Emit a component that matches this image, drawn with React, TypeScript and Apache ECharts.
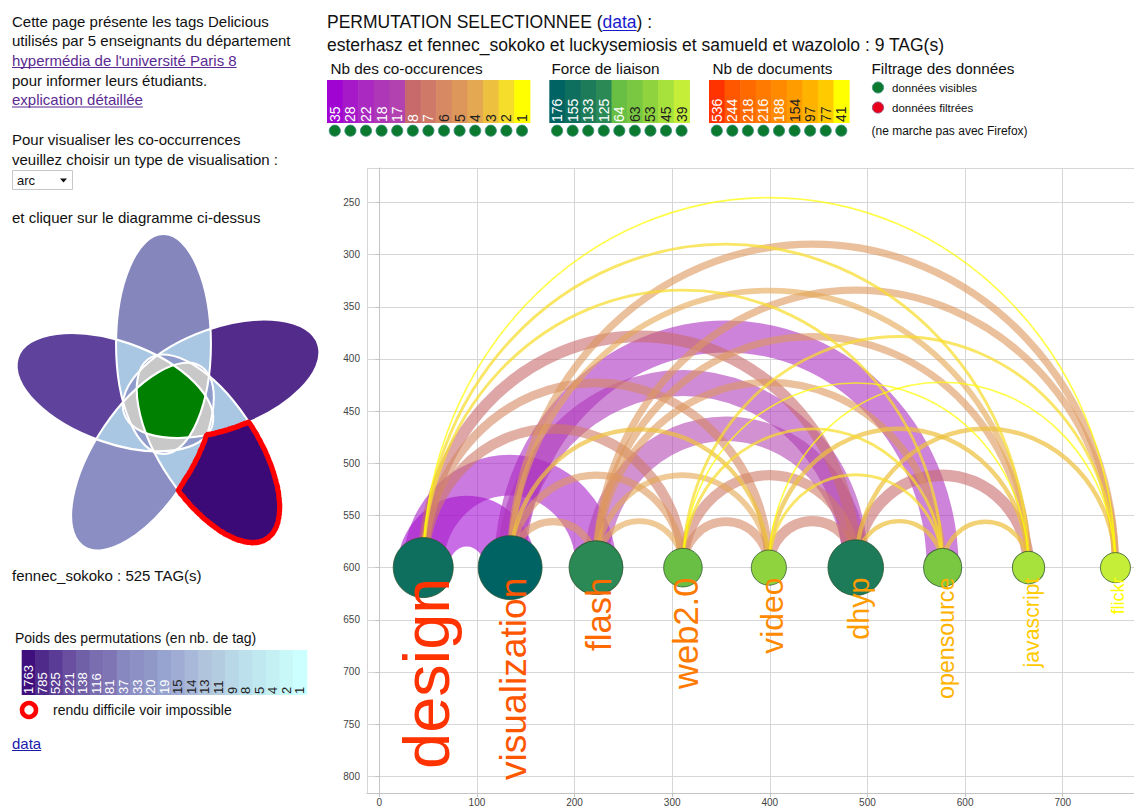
import React, { useEffect, useRef } from "react";
import * as echarts from "echarts";

const FONT = 'Arial, "Liberation Sans", Helvetica, sans-serif';

// ---- arc diagram data ----
const tags = ["design", "visualization", "flash", "web2.0", "video", "dhyp", "opensource", "javascript", "flickr"];
const tagPos = [45, 134, 222, 311, 399, 488, 577, 665, 754];
const tagForce = [155, 176, 125, 64, 53, 133, 63, 45, 39];
const tagDocs = [536, 244, 218, 216, 188, 154, 97, 77, 41];
const baselineY = 600;

// [from, to, co-occurrences]
const links = [
  [0, 1, 35], [0, 2, 28], [1, 6, 22], [1, 5, 18], [2, 5, 17],
  [0, 5, 8], [5, 7, 8], [0, 3, 7], [4, 5, 7], [3, 5, 7],
  [0, 4, 6], [3, 4, 6], [1, 2, 5], [1, 3, 5], [1, 8, 5], [2, 8, 5], [2, 7, 5], [2, 6, 5],
  [2, 3, 4], [2, 4, 4], [1, 7, 4],
  [5, 6, 3], [6, 7, 3], [4, 7, 3], [5, 8, 3], [1, 4, 3],
  [0, 6, 2], [0, 7, 2], [3, 6, 2], [4, 6, 2], [3, 8, 2],
  [0, 8, 1], [4, 8, 1], [3, 7, 1],
];

// ---- legends ----
const coocLegend = [35, 28, 22, 18, 17, 8, 7, 6, 5, 4, 3, 2, 1];
const coocColors = ["#a004d2", "#a619c8", "#aa29c0", "#ae37b8", "#b242b0", "#c86a6c", "#cf7a68", "#d68962", "#dd975b", "#e4a752", "#edc03f", "#f6dc2b", "#ffff00"];
const forceLegend = [176, 155, 133, 125, 64, 63, 53, 45, 39];
const forceColors = ["#006363", "#0f6f5e", "#1d7b5a", "#2b8956", "#68bf44", "#7ac842", "#8fd43f", "#a7e13b", "#c4ee38"];
const docsLegend = [536, 244, 218, 216, 188, 154, 97, 77, 41];
const docsColors = ["#ff3300", "#ff5600", "#ff6a00", "#ff7a00", "#ff8a00", "#ff9d00", "#ffb300", "#ffcb00", "#ffff00"];
const poidsLegend = [1763, 785, 525, 221, 138, 116, 81, 37, 33, 20, 19, 15, 14, 13, 11, 9, 8, 5, 4, 2, 1];
const poidsColors = ["#3f0f7d", "#4f2a8a", "#5a3b95", "#6a4fa0", "#7060a8", "#7a6db0", "#8075b4", "#8888c0", "#8c90c4", "#9098c8", "#98a4d0", "#a0acd4", "#a8b8d8", "#b0c4dc", "#b4cce0", "#b8d8e8", "#bce0ec", "#c0e8f0", "#c4f0f4", "#c8f8f8", "#ccffff"];
const vennColors = ["#8486bc", "#5f429b", "#8a8ec2", "#3b0a77", "#532b8a"];
const overlapColors = ["#a9c6e2", "#8f9bcb", "#c8c8c8", "#008000"];

const leftLines = [
  "Cette page présente les tags Delicious",
  "utilisés par 5 enseignants du département",
  "hypermédia de l'université Paris 8",
  "pour informer leurs étudiants.",
  "explication détaillée",
];

let measureCtx: CanvasRenderingContext2D | null = null;
function measure(text: string, size: number) {
  if (!measureCtx) measureCtx = document.createElement("canvas").getContext("2d");
  if (!measureCtx) return text.length * size * 0.5;
  measureCtx.font = `${size}px ${FONT}`;
  return measureCtx.measureText(text).width;
}

function colorFor(values: number[], colors: string[], v: number) {
  const i = values.indexOf(v);
  return colors[i >= 0 ? i : colors.length - 1];
}

function txt(x: number, y: number, text: string, size: number, fill = "#111") {
  return {
    type: "text",
    x,
    y,
    silent: true,
    style: { text, fill, fontSize: size, fontFamily: FONT, align: "left", verticalAlign: "middle" },
  };
}

function uline(x1: number, x2: number, y: number, color: string) {
  return { type: "line", silent: true, shape: { x1, y1: y, x2, y2: y }, style: { stroke: color, lineWidth: 1 } };
}

function swatches(x0: number, y0: number, w: number, h: number, values: number[], colors: string[], lightCount: number, fontSize: number, dotY: number | null) {
  const els: any[] = [];
  values.forEach((v, i) => {
    const x = x0 + i * w;
    els.push({ type: "rect", silent: true, shape: { x, y: y0, width: w + 0.6, height: h }, style: { fill: colors[i] } });
    els.push({
      type: "text",
      silent: true,
      x: x + w / 2,
      y: y0 + h - 1,
      rotation: Math.PI / 2,
      style: { text: String(v), fill: i < lightCount ? "#ffffff" : "#222222", fontSize, fontFamily: FONT, align: "left", verticalAlign: "middle" },
    });
    if (dotY != null) {
      els.push({ type: "circle", silent: true, shape: { cx: x + w / 2, cy: dotY, r: 5.6 }, style: { fill: "#0b7a2f", stroke: "#3b8d80", lineWidth: 0.8 } });
    }
  });
  return els;
}

// ---- Venn (5 ellipses) ----
const VA = 110, VB = 51, VD = 60, VP = 7;
function vennEllipses() {
  const out: { cx: number; cy: number; phi: number }[] = [];
  for (let k = 0; k < 5; k++) {
    const phi = ((90 + 72 * k) * Math.PI) / 180;
    const cx = VD * Math.cos(phi) + VP * Math.cos(phi + Math.PI / 2);
    const cy = -(VD * Math.sin(phi) + VP * Math.sin(phi + Math.PI / 2));
    out.push({ cx, cy, phi });
  }
  return out;
}
function insideE(e: { cx: number; cy: number; phi: number }, x: number, y: number) {
  const dx = x - e.cx, dy = y - e.cy;
  const c = Math.cos(e.phi), s = Math.sin(e.phi);
  const u = c * dx - s * dy;
  const v = s * dx + c * dy;
  return (u * u) / (VA * VA) + (v * v) / (VB * VB) <= 1;
}
function countAt(ells: any[], x: number, y: number) {
  let n = 0;
  for (const e of ells) if (insideE(e, x, y)) n++;
  return n;
}
function rayRegion(ox: number, oy: number, test: (x: number, y: number) => boolean) {
  const pts: number[][] = [];
  for (let deg = 0; deg < 360; deg += 1.5) {
    const t = (deg * Math.PI) / 180;
    let r = 0;
    while (r < 220 && test(ox + r * Math.cos(t), oy + r * Math.sin(t))) r += 0.5;
    pts.push([ox + r * Math.cos(t), oy + r * Math.sin(t)]);
  }
  return pts;
}

function venn() {
  const ells = vennEllipses();
  const fills = ells.map((e, k) => ({ type: "ellipse", x: e.cx, y: e.cy, rotation: e.phi, shape: { cx: 0, cy: 0, rx: VA, ry: VB }, style: { fill: vennColors[k] } }));
  const outlines = ells.map((e) => ({ type: "ellipse", x: e.cx, y: e.cy, rotation: e.phi, shape: { cx: 0, cy: 0, rx: VA, ry: VB }, style: { fill: "none", stroke: "#ffffff", lineWidth: 2.2 } }));
  const regions = [2, 3, 4, 5].map((k, i) => ({
    type: "polygon",
    shape: { points: rayRegion(0, 0, (x, y) => countAt(ells, x, y) >= k) },
    style: { fill: overlapColors[i] },
  }));
  const e3 = ells[3];
  const ox = e3.cx + 0.55 * VA * Math.cos(e3.phi);
  const oy = e3.cy - 0.55 * VA * Math.sin(e3.phi);
  const lobe = rayRegion(ox, oy, (x, y) => insideE(e3, x, y) && countAt(ells, x, y) === 1);
  return {
    type: "group",
    x: 170,
    y: 404,
    scaleX: 0.93,
    silent: true,
    children: [
      ...fills,
      ...regions,
      ...outlines,
      { type: "polygon", shape: { points: lobe }, style: { fill: "#3b0a77", stroke: "#ff0000", lineWidth: 5.5, lineJoin: "round" } },
    ],
  };
}

function buildGraphic() {
  const g: any[] = [];
  const LS = 15;
  const ly = [21, 40.5, 60, 80, 99.5];
  leftLines.forEach((t, i) => {
    const link = i === 2 || i === 4;
    g.push(txt(12, ly[i], t, LS, link ? "#5b2a92" : "#111"));
    if (link) g.push(uline(12, 12 + measure(t, LS), ly[i] + 7.5, "#5b2a92"));
  });
  g.push(txt(12, 139.5, "Pour visualiser les co-occurrences", LS));
  g.push(txt(12, 159.5, "veuillez choisir un type de visualisation :", LS));
  g.push({ type: "rect", silent: true, shape: { x: 12.5, y: 170.5, width: 60, height: 19 }, style: { fill: "#ffffff", stroke: "#c8c8c8", lineWidth: 1 } });
  g.push(txt(17, 180.5, "arc", 13));
  g.push({ type: "polygon", silent: true, shape: { points: [[60, 178.5], [67, 178.5], [63.5, 182.5]] }, style: { fill: "#111" } });
  g.push(txt(12, 217, "et cliquer sur le diagramme ci-dessus", LS));
  g.push(venn());
  g.push(txt(12, 575, "fennec_sokoko : 525 TAG(s)", LS));
  g.push(txt(15, 638, "Poids des permutations (en nb. de tag)", 14));
  g.push(...swatches(21.7, 650, 13.57, 45, poidsLegend, poidsColors, 11, 13, null));
  g.push({ type: "circle", silent: true, shape: { cx: 29, cy: 710, r: 7 }, style: { fill: "#ffffff", stroke: "#ff0000", lineWidth: 4.5 } });
  g.push(txt(53, 709.5, "rendu difficile voir impossible", 14));
  g.push(txt(12, 743, "data", LS, "#1a1aaa"));
  g.push(uline(12, 12 + measure("data", LS), 750.5, "#1a1aaa"));

  // header
  const HS = 17.5;
  const pre = "PERMUTATION SELECTIONNEE (";
  g.push({
    type: "text",
    silent: true,
    x: 327,
    y: 21.5,
    style: {
      text: `{a|${pre}}{b|data}{a|) :}`,
      fontSize: HS,
      fontFamily: FONT,
      align: "left",
      verticalAlign: "middle",
      rich: {
        a: { fontSize: HS, fontFamily: FONT, fill: "#111" },
        b: { fontSize: HS, fontFamily: FONT, fill: "#1a1acc" },
      },
    },
  });
  const dx = 327 + measure(pre, HS);
  g.push(uline(dx, dx + measure("data", HS), 30.5, "#1a1acc"));
  g.push(txt(327, 45, "esterhasz et fennec_sokoko et luckysemiosis et samueld et wazololo : 9 TAG(s)", HS));

  // legends
  g.push(txt(330.5, 68, "Nb des co-occurences", 15.3));
  g.push(...swatches(327, 80, 15.6, 43, coocLegend, coocColors, 7, 14, 130.7));
  g.push(txt(551.5, 68, "Force de liaison", 15.3));
  g.push(...swatches(549.3, 80, 15.56, 43, forceLegend, forceColors, 5, 14, 130.7));
  g.push(txt(712.5, 68, "Nb de documents", 15.3));
  g.push(...swatches(709, 80, 15.56, 43, docsLegend, docsColors, 5, 14, 130.7));
  g.push(txt(871.5, 68, "Filtrage des données", 15.3));
  g.push({ type: "circle", silent: true, shape: { cx: 878, cy: 87.5, r: 5.6 }, style: { fill: "#0b7a2f", stroke: "#3b8d80", lineWidth: 0.8 } });
  g.push(txt(892, 87.5, "données visibles", 11.5));
  g.push({ type: "circle", silent: true, shape: { cx: 878, cy: 107.5, r: 5.6 }, style: { fill: "#e8001a", stroke: "#8a4a7a", lineWidth: 0.8 } });
  g.push(txt(892, 107.5, "données filtrées", 11.5));
  g.push(txt(871.5, 131, "(ne marche pas avec Firefox)", 12));
  return g;
}

function buildOption() {
  const sortedLinks = links.slice().sort((p, q) => q[2] - p[2]);
  return {
    animation: false,
    textStyle: { fontFamily: FONT },
    grid: { left: 367, top: 168, right: 0, bottom: 10, containLabel: false },
    xAxis: {
      type: "value",
      min: -12.6,
      max: 773,
      splitNumber: 8,
      axisLine: { show: true, lineStyle: { color: "#c4c4c4" } },
      axisTick: { show: true, length: 4, lineStyle: { color: "#c4c4c4" } },
      splitLine: { show: true, lineStyle: { color: "#d6d6d6" } },
      axisLabel: { fontSize: 10, color: "#444", margin: 4, showMinLabel: false, showMaxLabel: false },
    },
    yAxis: {
      type: "value",
      inverse: true,
      min: 217,
      max: 816,
      splitNumber: 12,
      axisLine: { show: true, lineStyle: { color: "#c4c4c4" } },
      axisTick: { show: true, length: 4, lineStyle: { color: "#c4c4c4" } },
      splitLine: { show: true, lineStyle: { color: "#d6d6d6" } },
      axisLabel: { fontSize: 10, color: "#444", margin: 7, showMinLabel: false, showMaxLabel: false },
    },
    series: [
      {
        type: "custom",
        name: "arcs",
        z: 2,
        silent: true,
        data: sortedLinks.map((l) => [tagPos[l[0]], tagPos[l[1]], l[2]]),
        renderItem: (params: any, api: any) => {
          const x1 = api.value(0);
          const x2 = api.value(1);
          const c = api.value(2);
          const r = (x2 - x1) / 2;
          const p1 = api.coord([x1, baselineY]);
          const p2 = api.coord([x2, baselineY]);
          const top = api.coord([(x1 + x2) / 2, baselineY - r]);
          const rx = (p2[0] - p1[0]) / 2;
          const ry = p1[1] - top[1];
          const d = `M${p1[0]},${p1[1]} A${rx},${ry} 0 0 1 ${p2[0]},${p2[1]}`;
          return {
            type: "path",
            shape: { pathData: d },
            style: {
              fill: "none",
              stroke: colorFor(coocLegend, coocColors, c),
              lineWidth: Math.max(1.6, c * 1.45),
              opacity: c >= 17 ? 0.58 : c <= 3 ? 0.72 : 0.6,
            },
          };
        },
      },
      {
        type: "scatter",
        name: "tags",
        z: 3,
        silent: true,
        symbol: "circle",
        data: tags.map((t, i) => ({
          value: [tagPos[i], baselineY],
          symbolSize: 4.82 * Math.sqrt(tagForce[i]),
          itemStyle: { color: colorFor(forceLegend, forceColors, tagForce[i]) },
        })),
        itemStyle: { borderColor: "rgba(40,80,40,0.75)", borderWidth: 1, opacity: 1 },
      },
      {
        type: "custom",
        name: "labels",
        z: 4,
        silent: true,
        data: tags.map((t, i) => [tagPos[i], baselineY]),
        renderItem: (params: any, api: any) => {
          const i = params.dataIndex;
          const p = api.coord([api.value(0), api.value(1)]);
          return {
            type: "text",
            x: p[0] + 3,
            y: p[1] + 10,
            rotation: Math.PI / 2,
            style: {
              text: tags[i],
              fill: colorFor(docsLegend, docsColors, tagDocs[i]),
              fontSize: 14 + 0.095 * tagDocs[i],
              fontFamily: FONT,
              align: "right",
              verticalAlign: "middle",
            },
          };
        },
      },
    ],
    graphic: { elements: buildGraphic() },
  };
}

export default function App() {
  const ref = useRef<HTMLDivElement>(null);
  useEffect(() => {
    if (!ref.current) return;
    const chart = echarts.init(ref.current, undefined, { renderer: "svg" });
    chart.setOption(buildOption() as any);
    return () => chart.dispose();
  }, []);
  return <div ref={ref} style={{ position: "fixed", left: 0, top: 0, width: 1134, height: 807, background: "#ffffff" }} />;
}
